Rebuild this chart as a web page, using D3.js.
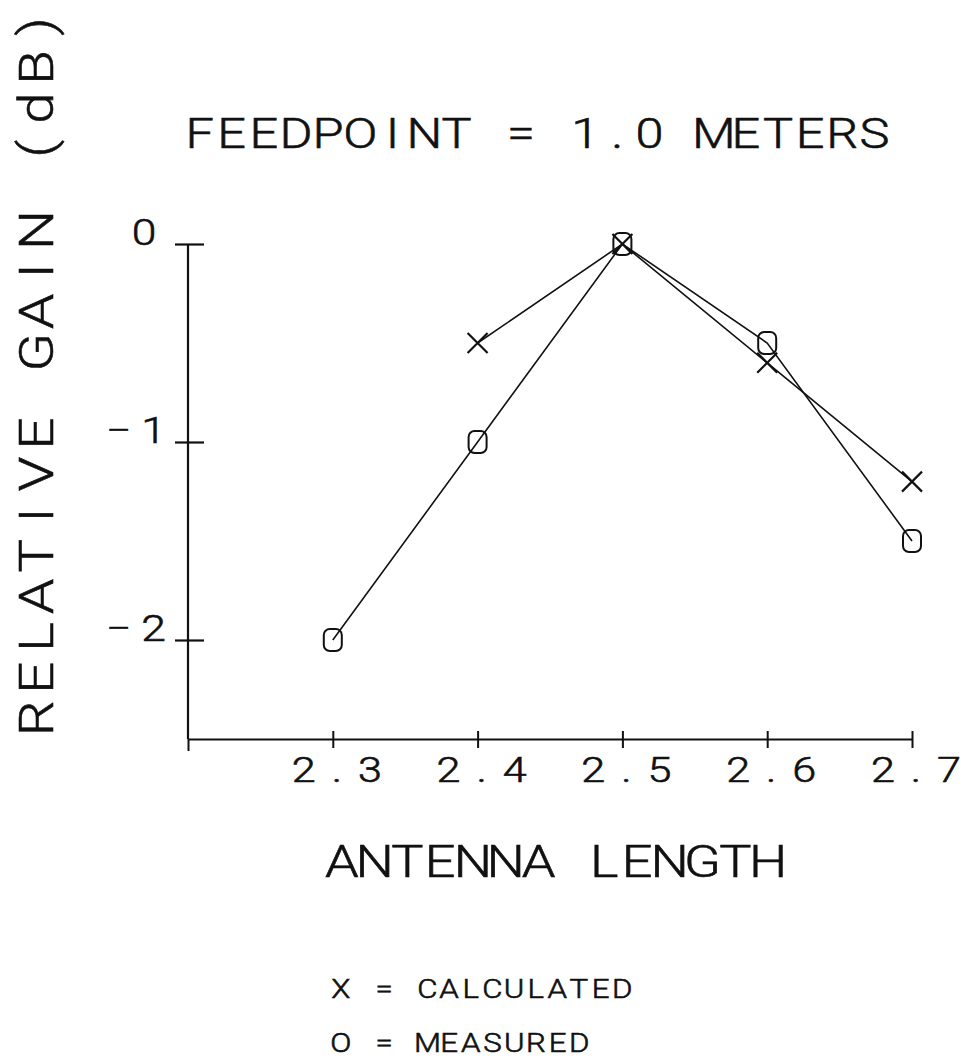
<!DOCTYPE html>
<html>
<head>
<meta charset="utf-8">
<script src="https://cdn.jsdelivr.net/npm/d3@7"></script>
<style>
  html, body { margin: 0; padding: 0; background: #fff; }
  svg { display: block; }
  text { font-family: Roboto, "DejaVu Sans", sans-serif; font-weight: 300; fill: #111; stroke: #111; stroke-width: 0.6; white-space: pre; }
</style>
</head>
<body>
<svg id="chart" width="964" height="1061"></svg>
<script>
// ---- data ----
const lengths = [2.3, 2.4, 2.5, 2.6, 2.7];
const measured = [-2.0, -1.0, 0.0, -0.5, -1.5];
const calcLengths = [2.4, 2.5, 2.6, 2.7];
const calculated = [-0.5, 0.0, -0.6, -1.2];
const xTicks = [2.2, 2.3, 2.4, 2.5, 2.6, 2.7];
const xTickLabels = ["2.3", "2.4", "2.5", "2.6", "2.7"];
const yTicks = [0, -1, -2];
const yTickLabels = ["0", "\u22121", "\u22122"];
const titleText = "FEEDPOINT = 1.0 METERS";
const xLabelText = "ANTENNA LENGTH";
const yLabelText = "RELATIVE GAIN (dB)";
const legendLines = ["X = CALCULATED", "O = MEASURED"];

const svg = d3.select("#chart");
const ink = "#111";

const x = d3.scaleLinear().domain([2.2, 2.7]).range([188, 912]);
const y = d3.scaleLinear().domain([-2.5, 0]).range([739, 244]);

// plotter-like monospaced text: every character gets its own cell,
// glyphs widened by sx along the baseline
function monoText(g, str, x0, y0, size, span, anchor, rot, sx) {
  sx = sx || 1.2;
  const n = str.length, r = 0.72;
  const a = span / (n - 1 + r), gw = r * a;
  let off = 0;
  if (anchor === "middle") off = -span / 2;
  if (anchor === "end") off = -span;
  const xs = d3.range(n).map(i => ((off + gw / 2 + i * a) / sx).toFixed(2));
  return g.append("text")
    .attr("transform", `translate(${x0},${y0})${rot ? " rotate(" + rot + ")" : ""} scale(${sx},1)`)
    .attr("font-size", size)
    .attr("text-anchor", "middle")
    .attr("x", xs.join(" "))
    .attr("y", 0)
    .text(str);
}

// ---- x axis ----
const xAxisG = svg.append("g").attr("transform", `translate(0,${y(-2.5)})`)
  .call(d3.axisBottom(x).tickValues(xTicks).tickSizeOuter(0).tickFormat(""));
xAxisG.select(".domain").attr("stroke", ink).attr("stroke-width", 2.2);
xAxisG.selectAll(".tick line")
  .attr("stroke", ink).attr("stroke-width", 2)
  .attr("y1", d => d === 2.2 ? 0 : -8)
  .attr("y2", d => d === 2.2 ? 12 : 9);

// ---- y axis ----
const yAxisG = svg.append("g").attr("transform", `translate(${x(2.2)},0)`)
  .call(d3.axisLeft(y).tickValues(yTicks).tickSizeOuter(0).tickFormat(""));
yAxisG.select(".domain").attr("stroke", ink).attr("stroke-width", 2.2)
  .attr("d", `M0,${y(0)}V${y(-2.5)}`);
yAxisG.selectAll(".tick line")
  .attr("stroke", ink).attr("stroke-width", 2.2)
  .attr("x1", -13).attr("x2", 16);

// ---- tick labels ----
const labG = svg.append("g");
xTickLabels.forEach(d => monoText(labG, d, x(+d) + 4, 782, 36, 90, "middle"));
yTicks.forEach((d, i) => {
  const isZero = i === 0;
  monoText(labG, yTickLabels[i], isZero ? 155 : 166, y(d) + 1, 37, isZero ? 22 : 60, "end");
});

// ---- titles ----
monoText(svg, titleText, 188, 148, 42, 698, "start");
monoText(svg, xLabelText, 330, 877, 45, 450, "start");
monoText(svg, yLabelText, 53, 733, 49, 721, "start", -90, 1.15);

// ---- legend ----
legendLines.forEach((d, i) => monoText(svg, d, 333, 998 + i * 54, 26, i === 0 ? 297 : 254, "start"));

// ---- series lines ----
const mData = lengths.map((l, i) => ({ x: l, y: measured[i] }));
const cData = calcLengths.map((l, i) => ({ x: l, y: calculated[i] }));
const line = d3.line().x(d => x(d.x)).y(d => y(d.y));

svg.append("path").datum(mData).attr("d", line)
  .attr("fill", "none").attr("stroke", ink).attr("stroke-width", 1.6);
svg.append("path").datum(cData).attr("d", line)
  .attr("fill", "none").attr("stroke", ink).attr("stroke-width", 1.6);

// ---- markers ----
svg.append("g").selectAll("rect").data(mData).join("rect")
  .attr("x", d => x(d.x) - 9).attr("y", d => y(d.y) - 11)
  .attr("width", 18).attr("height", 22).attr("rx", 6).attr("ry", 6)
  .attr("fill", "none").attr("stroke", ink).attr("stroke-width", 2);

const s = 10;
svg.append("g").selectAll("path").data(cData).join("path")
  .attr("d", d => {
    const cx = x(d.x), cy = y(d.y);
    return `M${cx - s},${cy - s}L${cx + s},${cy + s}M${cx - s},${cy + s}L${cx + s},${cy - s}`;
  })
  .attr("fill", "none").attr("stroke", ink).attr("stroke-width", 2.2);
</script>
</body>
</html>
